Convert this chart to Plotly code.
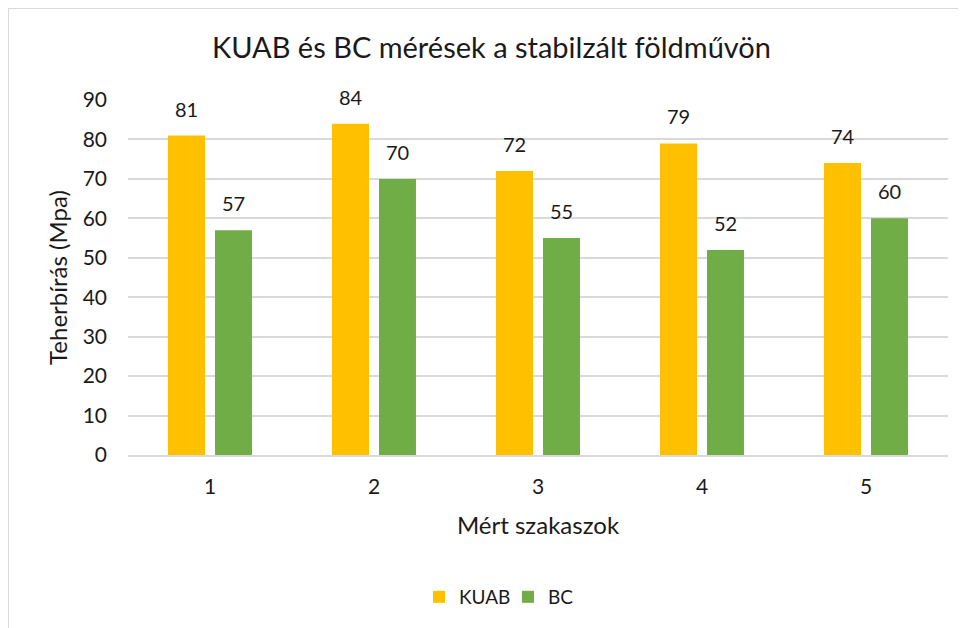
import plotly.graph_objects as go

categories = [1, 2, 3, 4, 5]
kuab = [81, 84, 72, 79, 74]
bc = [57, 70, 55, 52, 60]
series_names = ["KUAB", "BC"]
colors = ["#FFC000", "#70AD47"]
title_text = "KUAB és BC mérések a stabilzált földművön"
x_title = "Mért szakaszok"
y_title = "Teherbírás (Mpa)"
y_ticks = [0, 10, 20, 30, 40, 50, 60, 70, 80, 90]

FONT = "Lato"
TXT = "#1a1a1a"

# page body has an 8px margin; work in div coordinates
OFF = 8
W, H = 958, 620
L = 128 - OFF
T = 100 - OFF
R = W - (948 - OFF)
B = H - (455 - OFF)
pw, ph = W - L - R, H - T - B

fig = go.Figure()
for name, vals, col in zip(series_names, [kuab, bc], colors):
    fig.add_trace(go.Bar(x=categories, y=vals, name=name, marker=dict(color=col, line=dict(width=0))))

bargap = 0.427
bargroupgap = 0.213
slot = (1 - bargap) / 2
annotations = []
for k, vals in enumerate([kuab, bc]):
    off = (k - 0.5) * slot
    for c, v in zip(categories, vals):
        annotations.append(dict(x=c + off, y=v, text=str(v), showarrow=False,
                                yanchor="bottom", yshift=13,
                                font=dict(family=FONT, size=20, color=TXT)))

# chart border (top and left visible)
shapes = [
    dict(type="line", xref="paper", yref="paper", x0=-L / pw, x1=1.2, y0=1 + T / ph, y1=1 + T / ph,
         line=dict(color="#d9d9d9", width=2)),
    dict(type="line", xref="paper", yref="paper", x0=-L / pw, x1=-L / pw, y0=1 + T / ph, y1=-0.6,
         line=dict(color="#d9d9d9", width=2)),
]

fig.update_layout(
    width=W, height=H,
    margin=dict(l=L, r=R, t=T, b=B, autoexpand=False),
    paper_bgcolor="white", plot_bgcolor="white",
    barmode="group", bargap=bargap, bargroupgap=bargroupgap,
    title=dict(text=title_text, x=(491.5 - OFF) / W, xanchor="center",
               y=1 - (48 - OFF) / H, yanchor="middle",
               font=dict(family=FONT, size=29, color=TXT)),
    xaxis=dict(range=[0.5, 5.5], tickvals=categories, ticktext=[str(c) for c in categories],
               showgrid=False, showline=True, linecolor="#d9d9d9", linewidth=1.5,
               ticks="", ticklabelstandoff=12, tickfont=dict(family=FONT, size=21, color=TXT),
               title=dict(text=x_title, font=dict(family=FONT, size=24, color=TXT), standoff=20),
               zeroline=False),
    yaxis=dict(range=[0, 90], tickvals=y_ticks, showgrid=True, gridcolor="#d9d9d9", gridwidth=1.5,
               zeroline=False, showline=False, ticks="", ticklabelstandoff=20,
               tickfont=dict(family=FONT, size=21, color=TXT),
               title=dict(text=y_title, font=dict(family=FONT, size=24, color=TXT), standoff=8)),
    legend=dict(orientation="h", x=(508 - 128) / pw, xanchor="center", y=-(597 - 455) / ph,
                yanchor="middle", font=dict(family=FONT, size=19, color=TXT), itemwidth=30,
                entrywidth=44, entrywidthmode="pixels"),
    annotations=annotations,
    shapes=shapes,
    showlegend=True,
)

fig.write_html("out.html")
